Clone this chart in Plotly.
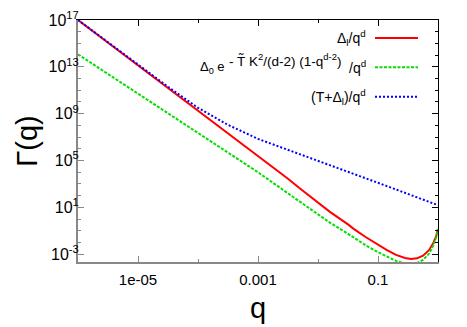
import plotly.graph_objects as go

# values (log-log plot)
q = [1e-6, 1e-5, 3.16e-5, 1e-4, 3.16e-4, 1e-3, 3.16e-3, 5.01e-3, 1e-2, 1.58e-2,
     3.16e-2, 3.98e-2, 6.31e-2, 0.1, 0.141, 0.2, 0.282, 0.355, 0.447, 0.562,
     0.708, 0.832, 0.933, 1.0]

gamma_delta = [1.0e17, 1.41e13, 1.70e11, 2.0e9, 2.4e7, 2.82e5, 2.82e3, 417, 28.2, 4.17,
               0.355, 0.141, 0.0282, 6.31e-3, 2.24e-3, 8.9e-4, 4.8e-4, 4.0e-4, 4.5e-4, 7.6e-4,
               2.24e-3, 8.9e-3, 0.0355, 0.141]

gamma_exp = [1.17e14, 5.0e10, 1.02e9, 2.0e7, 4.6e5, 1.0e4, 158, 29.5, 2.82, 0.50,
             0.056, 0.0251, 5.6e-3, 1.51e-3, 6.0e-4, 2.7e-4, 1.62e-4, 1.48e-4, 1.78e-4, 3.3e-4,
             1.12e-3, 5.4e-3, 0.0282, 0.141]

gamma_t = [1.0e17, 1.41e13, 2.0e11, 3.16e9, 1.12e8, 7.1e6, 7.9e5, 3.55e5, 1.0e5, 4.17e4,
           1.12e4, 7.2e3, 3.0e3, 1.26e3, 661, 339, 178, 115, 74, 47,
           30, 21.9, 17.8, 15.5]

x_ticks = [1e-5, 1e-3, 1e-1]
x_ticktext = ["1e-05", "0.001", "0.1"]
y_ticks = [1e17, 1e13, 1e9, 1e5, 1e1, 1e-3]
y_ticktext = ["10<sup>17</sup>", "10<sup>13</sup>", "10<sup>9</sup>",
              "10<sup>5</sup>", "10<sup>1</sup>", "10<sup>-3</sup>"]

legend_labels = ["Δ<sub>l</sub>/q<sup>d</sup>", None, "(T+Δ<sub>l</sub>)/q<sup>d</sup>"]
# second key entry is built from three pieces so the exponent can be sized freely
exp_base = "Δ<sub>0</sub> e"
exp_power = "- T\u0303 K<sup>2</sup>/(d-2) (1-q<sup>d-2</sup>)"
exp_tail = "/q<sup>d</sup>"

colors = ["#ff0000", "#00e000", "#0000ff"]
dashes = ["solid", "3px,1.5px", "2px,2px"]

FONT = "Liberation Sans, Arial, sans-serif"

fig = go.Figure()
for ys, c, d in zip([gamma_delta, gamma_exp, gamma_t], colors, dashes):
    fig.add_trace(go.Scatter(x=q, y=ys, mode="lines", showlegend=False,
                             line=dict(color=c, width=2, dash=d)))

# invisible trace on the mirrored axes so they are drawn
fig.add_trace(go.Scatter(x=[1e-6], y=[1e17], xaxis="x2", yaxis="y2",
                         mode="markers", marker=dict(opacity=0), showlegend=False,
                         hoverinfo="skip"))

xr = [-6, 0]
yr = [-3.66, 17]
minor_x = [1e-6, 1e-4, 1e-2, 1]
minor_y = [10.0 ** k for k in range(-3, 18)]

common_x = dict(type="log", range=xr, ticks="inside", ticklen=6, tickwidth=1,
                tickvals=x_ticks, showgrid=False, zeroline=False,
                minor=dict(ticks="inside", ticklen=3, tickvals=minor_x))
common_y = dict(type="log", range=yr, ticks="inside", ticklen=6, tickwidth=1,
                tickvals=y_ticks, showgrid=False, zeroline=False,
                minor=dict(ticks="inside", ticklen=3, tickvals=minor_y))

# page body adds 8px around the figure, so size/margins are trimmed by that
fig.update_layout(
    width=459, height=319,
    margin=dict(l=70, r=29, t=12, b=65, autoexpand=False),
    plot_bgcolor="white", paper_bgcolor="white",
    font=dict(family=FONT, size=12, color="black"),
    xaxis=dict(**common_x, ticktext=x_ticktext, linecolor="#888888", linewidth=2,
               tickcolor="#888888", showline=True, automargin=False,
               tickfont=dict(size=15), ticklabelstandoff=3, ticklabeloverflow="allow",
               title=dict(text="q", font=dict(size=29), standoff=11)),
    yaxis=dict(**common_y, ticktext=y_ticktext, linecolor="#888888", linewidth=2,
               tickcolor="#888888", showline=True, automargin=False,
               tickfont=dict(size=16), ticklabelstandoff=-6, ticklabeloverflow="allow",
               title=dict(text="Γ(q)", font=dict(size=29), standoff=2)),
    xaxis2=dict(**common_x, overlaying="x", side="top", showticklabels=False,
                linecolor="black", linewidth=1, showline=True, tickcolor="black"),
    yaxis2=dict(**common_y, overlaying="y", side="right", showticklabels=False,
                linecolor="black", linewidth=1, showline=True, tickcolor="black"),
)

# gnuplot-style key: text right-aligned, sample line to its right
W = 360.0
def px(xp):
    return (xp - 78) / W

row_y = [0.926, 0.805, 0.683]
for lab, c, d, yy in zip(legend_labels, colors, dashes, row_y):
    if lab is not None:
        fig.add_annotation(x=px(368), y=yy, xref="paper", yref="paper", text=lab,
                           showarrow=False, xanchor="right", yanchor="middle",
                           font=dict(size=14))
    fig.add_shape(type="line", xref="paper", yref="paper", x0=px(375), x1=px(418),
                  y0=yy, y1=yy, line=dict(color=c, width=2, dash=d))

yy = row_y[1]
fig.add_annotation(x=px(368), y=yy, xref="paper", yref="paper", text=exp_tail,
                   showarrow=False, xanchor="right", yanchor="middle", font=dict(size=14))
fig.add_annotation(x=px(343), y=yy, xref="paper", yref="paper", text=exp_power,
                   showarrow=False, xanchor="right", yanchor="middle", yshift=7,
                   font=dict(size=13.5))
fig.add_annotation(x=px(227), y=yy, xref="paper", yref="paper", text=exp_base,
                   showarrow=False, xanchor="right", yanchor="middle", font=dict(size=13))

fig.write_html("out.html")
